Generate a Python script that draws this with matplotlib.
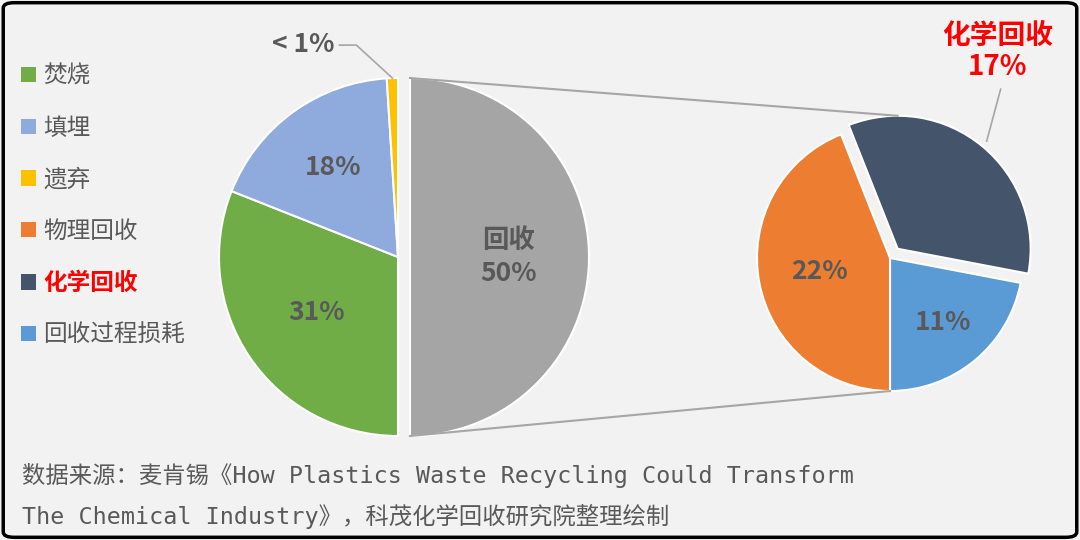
import numpy as np
import matplotlib.pyplot as plt
from matplotlib.patches import Patch, FancyBboxPatch

plt.rcParams["font.family"] = ["Noto Sans CJK SC", "DejaVu Sans"]

# main pie: recycled share is split out into the second pie
main_labels = ["回收", "焚烧", "填埋", "遗弃"]
main_values = [50, 31, 18, 1]
main_text = ["回收\n50%", "31%", "18%", "< 1%"]
main_colors = ["#a5a5a5", "#70ad47", "#8faadc", "#ffc000"]

# breakdown of the recycled share
sub_labels = ["回收过程损耗", "化学回收", "物理回收"]
sub_values = [11, 17, 22]
sub_text = ["11%", "化学回收\n17%", "22%"]
sub_colors = ["#5b9bd5", "#44546a", "#ed7d31"]

legend_labels = ["焚烧", "填埋", "遗弃", "物理回收", "化学回收", "回收过程损耗"]
legend_colors = ["#70ad47", "#8faadc", "#ffc000", "#ed7d31", "#44546a", "#5b9bd5"]

source_text = ("数据来源：麦肯锡《How Plastics Waste Recycling Could Transform\n"
               "The Chemical Industry》，科茂化学回收研究院整理绘制")

W, H = 1080, 540
fig = plt.figure(figsize=(W / 100, H / 100), dpi=100, facecolor="#f2f2f2")
ax = fig.add_axes([0, 0, 1, 1])
ax.set_facecolor("#f2f2f2")

label_color = "#595959"
line_color = "#a6a6a6"

# left pie (explode is in data units here, pixels)
c1, r1 = (398, 283), 179
w1, _ = ax.pie(main_values, colors=main_colors, startangle=90, counterclock=False,
               center=c1, radius=r1, explode=[12, 0, 0, 0],
               wedgeprops=dict(edgecolor="white", linewidth=1.5))

# right pie
c2, r2 = (890, 282), 133
w2, _ = ax.pie(sub_values, colors=sub_colors, startangle=-90, counterclock=True,
               center=c2, radius=r2, explode=[0, 12, 0],
               wedgeprops=dict(edgecolor="white", linewidth=1.5))


def point(w, frac, ang=None):
    if ang is None:
        ang = (w.theta1 + w.theta2) / 2
    a = np.deg2rad(ang)
    return w.center[0] + frac * w.r * np.cos(a), w.center[1] + frac * w.r * np.sin(a)


# labels inside slices
for w, t, d in zip(w1[:3], main_text[:3], [0.55, 0.55, 0.62]):
    x, y = point(w, d)
    ax.text(x, y, t, ha="center", va="center", fontsize=19, fontweight="bold",
            color=label_color, linespacing=1.25)

for w, t, d in [(w2[0], sub_text[0], 0.63), (w2[2], sub_text[2], 0.54)]:
    x, y = point(w, d)
    ax.text(x, y, t, ha="center", va="center", fontsize=19, fontweight="bold",
            color=label_color)

# "<1%" callout
yx, yy = point(w1[3], 1.0)
ax.plot([yx, yx - 36, yx - 53], [yy, yy + 33, yy + 33], color=line_color, lw=1.2)
ax.text(yx - 58, yy + 34, main_text[3], ha="right", va="center", fontsize=19,
        fontweight="bold", color=label_color)

# chemical recycling callout
cx, cy = point(w2[1], 1.05)
ax.plot([cx, cx + 14], [cy, cy + 52], color=line_color, lw=1.2)
ax.text(cx + 11, cy + 90, sub_text[1], ha="center", va="center", fontsize=20,
        fontweight="bold", color="red", linespacing=1.15)

# connector lines between the pies
gx, gy = w1[0].center
tx, ty = point(w2[1], 1.0, 90)
ax.plot([gx, tx], [gy + w1[0].r, ty], color=line_color, lw=1.5)
ax.plot([gx, c2[0]], [gy - w1[0].r, c2[1] - r2], color=line_color, lw=1.5)

# legend
handles = [Patch(facecolor=c, edgecolor="none") for c in legend_colors]
leg = ax.legend(handles, legend_labels, loc="upper left", bbox_to_anchor=(0.011, 0.897),
                frameon=False, fontsize=17, handlelength=0.62, handleheight=0.62,
                handletextpad=0.3, labelspacing=1.21, borderaxespad=0)
for t in leg.get_texts():
    t.set_color(label_color)
    if t.get_text() == "化学回收":
        t.set_color("red")
        t.set_fontweight("bold")

# source note
ax.text(22, 44, source_text, ha="left", va="center", fontsize=16.8, color=label_color,
        family=["DejaVu Sans Mono", "Noto Sans CJK SC"], linespacing=1.85)

ax.set_xlim(0, W)
ax.set_ylim(0, H)
ax.set_aspect("equal")
ax.axis("off")

# outer rounded frame
fig.patches.append(FancyBboxPatch((0.003, 0.005), 0.994, 0.99,
                                  boxstyle="round,pad=0,rounding_size=0.01",
                                  transform=fig.transFigure, fill=False,
                                  edgecolor="black", linewidth=2.5))

fig.savefig("out.png", dpi=100, facecolor=fig.get_facecolor())
